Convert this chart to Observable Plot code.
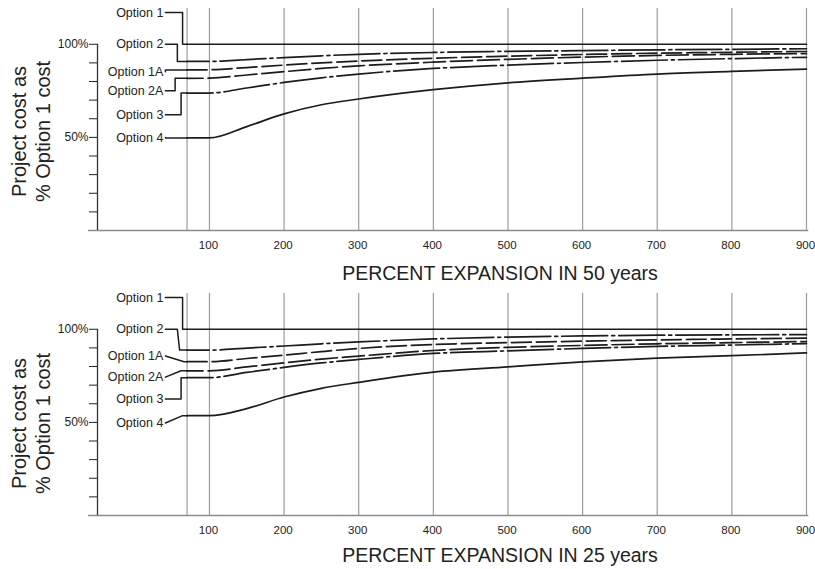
<!DOCTYPE html>
<html>
<head>
<meta charset="utf-8">
<script src="https://cdn.jsdelivr.net/npm/d3@7"></script>
<script src="https://cdn.jsdelivr.net/npm/@observablehq/plot@0.6"></script>
<style>
  html, body { margin: 0; padding: 0; background: #fff; }
  #chart svg { display: block; }
</style>
</head>
<body>
<div id="chart"></div>
<script>
// ---------- data ----------
const options = ["Option 1", "Option 2", "Option 1A", "Option 2A", "Option 3", "Option 4"];
const expansion = [70, 100, 150, 200, 250, 300, 400, 500, 600, 700, 800, 900];

// 50-year expansion (top panel), % of Option 1 cost
const opt1_50 = [100, 100, 100, 100, 100, 100, 100, 100, 100, 100, 100, 100];
const opt2_50 = [90.8, 90.8, 91.8, 92.8, 93.8, 94.6, 95.6, 96.2, 96.6, 97.0, 97.3, 97.6];
const opt1A_50 = [86.2, 86.3, 87.5, 88.8, 90.0, 91.0, 92.5, 93.6, 94.5, 95.2, 95.7, 96.1];
const opt2A_50 = [81.7, 81.8, 83.5, 85.3, 87.0, 88.4, 90.4, 91.9, 93.1, 94.0, 94.6, 95.0];
const opt3_50 = [73.8, 73.8, 76.5, 79.5, 82.0, 84.0, 87.0, 88.8, 90.2, 91.4, 92.3, 93.0];
const opt4_50 = [49.7, 49.7, 55.8, 62.6, 67.5, 70.6, 75.6, 79.3, 81.8, 84.0, 85.4, 86.7];

// 25-year expansion (bottom panel)
const opt1_25 = [100, 100, 100, 100, 100, 100, 100, 100, 100, 100, 100, 100];
const opt2_25 = [88.8, 88.8, 89.9, 91.0, 92.2, 93.2, 94.8, 95.8, 96.4, 96.8, 97.0, 97.1];
const opt1A_25 = [82.6, 82.6, 84.3, 86.1, 88.0, 89.7, 91.8, 92.8, 93.6, 94.3, 94.8, 95.2];
const opt2A_25 = [77.7, 77.7, 79.8, 82.0, 84.0, 85.6, 88.6, 90.3, 91.3, 92.2, 92.8, 93.4];
const opt3_25 = [74.0, 74.0, 76.8, 79.5, 81.9, 83.8, 87.0, 88.4, 89.7, 90.8, 91.5, 92.3];
const opt4_25 = [53.6, 53.6, 57.4, 63.6, 68.3, 71.5, 77.0, 79.8, 82.5, 84.5, 85.8, 87.3];

// label anchors (in data units) and leader bends
const labelY_50 = [117, 100, 85.3, 75.1, 62.2, 49.9];
const bendA_50 = [64, 57, 41, 54, 62, 41];
const bendB_50 = [64, 57, 41, 54, 62, 41];
const labelY_25 = [117, 100, 85.6, 74.3, 62.6, 49.7];
const bendA_25 = [64, 57, 41, 41, 62, 41];
const bendB_25 = [64, 60, 66, 62, 62, 64];

const gridX = [70, 100, 200, 300, 400, 500, 600, 700, 800, 900];
const xTickValues = [100, 200, 300, 400, 500, 600, 700, 800, 900];
const yTickValues = [10, 20, 30, 40, 50, 60, 70, 80, 90, 100];
const yTickLabels = ["", "", "", "", "50%", "", "", "", "", "100%"];
const yTitle = "Project cost as\n% Option 1 cost";
const xTitles = ["PERCENT EXPANSION IN 50 years", "PERCENT EXPANSION IN 25 years"];

// ---------- drawing ----------
const lineStyles = [
  {dash: null, offset: 0},
  {dash: "46,4,3,4", offset: 24},
  {dash: "20,5", offset: 0},
  {dash: "22,5", offset: 6},
  {dash: "46,4,3,4", offset: 20},
  {dash: null, offset: 0}
];
const ink = "#1c1c1c";
const labelEndX = 41;
const seriesStartX = expansion[0];

function panel(series, labelY, bendA, bendB, xTitle, yDy, titleDy, h) {
  const marks = [
    Plot.ruleX(gridX, {y1: 0, y2: 119.2, stroke: "#9c9c9c", strokeWidth: 1.2}),
    Plot.ruleY([0], {x1: -62, x2: 903, stroke: "#8c8c8c", strokeWidth: 1.6}),
    Plot.ruleX([-50], {y1: 0, y2: 100, stroke: "#333", strokeWidth: 1.3}),
    Plot.axisY({ticks: yTickValues, tickSize: 8, tickPadding: 1, fontSize: 12, color: "#222",
      tickFormat: d => yTickLabels[yTickValues.indexOf(d)], label: null}),
    Plot.axisX({ticks: xTickValues, tickSize: 0, tickPadding: 10, fontSize: 11.5, dx: -1, color: "#222", label: null}),
    Plot.text([xTitle], {text: d => d, frameAnchor: "bottom", dx: 48, dy: titleDy, fontSize: 19.5, fill: "#222", lineAnchor: "middle"}),
    Plot.text([yTitle], {text: d => d, frameAnchor: "left", dx: -67, dy: yDy, rotate: -90, fontSize: 20,
      lineHeight: 1.2, lineAnchor: "middle", textAnchor: "middle", fill: "#222"})
  ];
  series.forEach((vals, i) => {
    const pts = expansion.map((x, j) => ({x, y: vals[j]}));
    const st = lineStyles[i];
    marks.push(Plot.line(pts, {x: "x", y: "y", stroke: ink, strokeWidth: 1.7, curve: "monotone-x",
      strokeDasharray: st.dash ?? undefined, strokeDashoffset: st.offset}));
    const leader = [
      {x: labelEndX, y: labelY[i]},
      {x: bendA[i], y: labelY[i]},
      {x: bendB[i], y: vals[0]},
      {x: seriesStartX, y: vals[0]}
    ];
    marks.push(Plot.line(leader, {x: "x", y: "y", stroke: ink, strokeWidth: 1.5}));
  });
  marks.push(Plot.text(options, {x: () => labelEndX, y: (d, i) => labelY[i], text: d => d,
    textAnchor: "end", dx: -2, fontSize: 12.5, fill: "#222"}));

  return Plot.plot({
    width: 815, height: h,
    marginLeft: 97, marginRight: 9, marginTop: 8, marginBottom: h - 230,
    x: {domain: [-50, 900]},
    y: {domain: [0, 119.2]},
    style: {fontFamily: "'Liberation Sans', Arial, Helvetica, sans-serif", background: "#fff", overflow: "visible"},
    marks
  });
}

const chart = document.getElementById("chart");
chart.append(panel([opt1_50, opt2_50, opt1A_50, opt2A_50, opt3_50, opt4_50],
  labelY_50, bendA_50, bendB_50, xTitles[0], 12, 43, 285));
chart.append(panel([opt1_25, opt2_25, opt1A_25, opt2A_25, opt3_25, opt4_25],
  labelY_25, bendA_25, bendB_25, xTitles[1], 19, 40, 284));
</script>
</body>
</html>
